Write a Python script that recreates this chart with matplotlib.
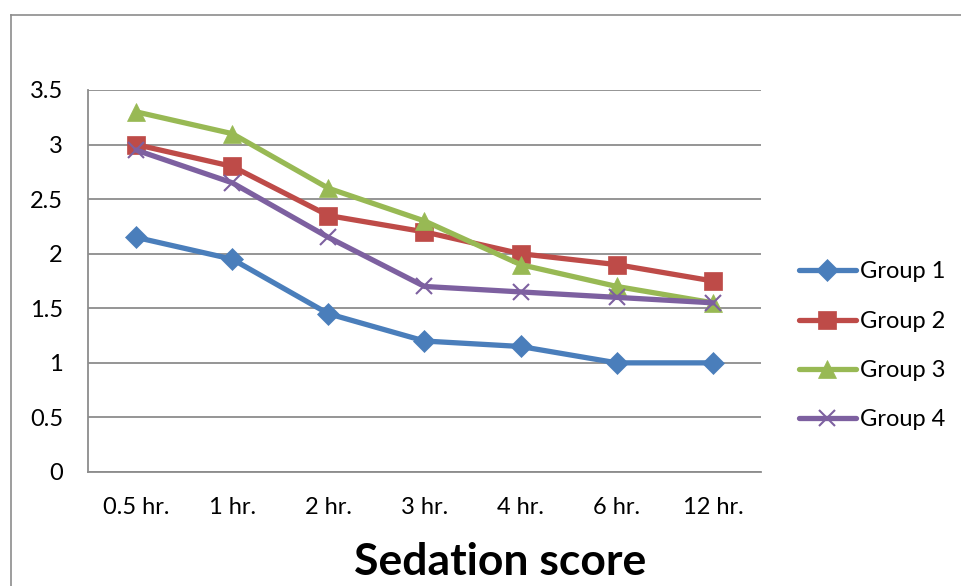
import matplotlib
matplotlib.use("Agg")
import matplotlib.pyplot as plt
from matplotlib.lines import Line2D

plt.rcParams['font.family'] = ['Lato', 'DejaVu Sans']

categories = ["0.5 hr.", "1 hr.", "2 hr.", "3 hr.", "4 hr.", "6 hr.", "12 hr."]
group1 = [2.15, 1.95, 1.45, 1.2, 1.15, 1.0, 1.0]
group2 = [3.0, 2.8, 2.35, 2.2, 2.0, 1.9, 1.75]
group3 = [3.3, 3.1, 2.6, 2.3, 1.9, 1.7, 1.55]
group4 = [2.95, 2.65, 2.15, 1.7, 1.65, 1.6, 1.55]
y_ticks = [0, 0.5, 1, 1.5, 2, 2.5, 3, 3.5]
y_tick_labels = ["0", "0.5", "1", "1.5", "2", "2.5", "3", "3.5"]

W, H = 962, 586
fig = plt.figure(figsize=(W / 100, H / 100), dpi=100)

# outer chart frame (open at right and bottom)
fig.add_artist(Line2D([11 / W, 11 / W], [0, 1 - 15 / H], color="#8c8c8c", lw=1.2))
fig.add_artist(Line2D([11 / W, 1], [1 - 15 / H, 1 - 15 / H], color="#8c8c8c", lw=1.2))

ax = fig.add_axes([88 / W, (H - 472) / H, 673 / W, 382 / H])
x = list(range(len(categories)))

series = [
    ("Group 1", group1, "#4a7ebb", "D", 11),
    ("Group 2", group2, "#be4b48", "s", 13),
    ("Group 3", group3, "#98b954", "^", 13),
    ("Group 4", group4, "#7d60a0", "x", 12),
]
for name, vals, col, mk, ms in series:
    kw = dict(markerfacecolor=col, markeredgecolor=col)
    kw["markeredgewidth"] = 1.5 if mk == "x" else 0.5
    ax.plot(x, vals, color=col, lw=3.8, marker=mk, markersize=ms,
            label=name, solid_joinstyle="round", solid_capstyle="round", **kw)

ax.set_xlim(-0.5, len(categories) - 0.5)
ax.set_ylim(0, 3.5)
ax.set_yticks(y_ticks)
ax.set_yticklabels(y_tick_labels)
ax.set_xticks(x)
ax.set_xticklabels(categories)
ax.tick_params(axis="both", length=0, labelsize=17, colors="black")
ax.tick_params(axis="y", pad=18)
ax.tick_params(axis="x", pad=18)
ax.grid(axis="y", color="#8c8c8c", lw=1.3)
ax.set_axisbelow(True)
for s in ("top", "right"):
    ax.spines[s].set_visible(False)
for s in ("left", "bottom"):
    ax.spines[s].set_color("#8c8c8c")
    ax.spines[s].set_linewidth(1.3)

fig.text(500 / W, 1 - 562 / H, "Sedation score", ha="center", va="center",
         fontsize=32, fontweight="bold")

ax.legend(loc="center left", bbox_to_anchor=(799 / W, 1 - 346 / H),
          bbox_transform=fig.transFigure, frameon=False, fontsize=17,
          handlelength=2.4, handletextpad=0.2, labelspacing=1.2,
          borderpad=0, borderaxespad=0)

fig.savefig("out.png", dpi=100)
